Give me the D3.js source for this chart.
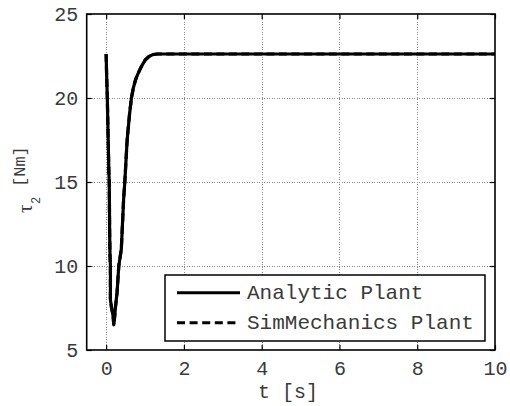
<!DOCTYPE html>
<html>
<head>
<meta charset="utf-8">
<script src="https://cdn.jsdelivr.net/npm/d3@7"></script>
<style>
  html, body { margin: 0; padding: 0; background: #fff; }
  svg { display: block; }
  text { font-family: "Liberation Mono", "Courier New", monospace; fill: #3a3a3a; }
</style>
</head>
<body>
<svg id="chart" width="510" height="406"></svg>
<script>
// ---- data ----
const time = [0, 0.01, 0.03, 0.05, 0.07, 0.08, 0.09, 0.10, 0.11, 0.11, 0.14, 0.18, 0.196,
  0.22, 0.24, 0.28, 0.325, 0.39, 0.42, 0.45, 0.48, 0.54, 0.60, 0.65, 0.70, 0.755, 0.80, 0.88,
  0.95, 1.01, 1.10, 1.20, 1.31, 2, 4, 6, 8, 10];
const analyticTau = [22.62, 21.6, 20.0, 17.8, 15.6, 15.0, 12.0, 10.6, 10.0, 8.0, 7.5, 7.0, 6.5,
  7.0, 7.56, 8.4, 10.0, 11.0, 12.5, 14.0, 15.0, 17.5, 19.0, 20.0, 20.6, 21.07, 21.35, 21.75,
  22.05, 22.28, 22.47, 22.58, 22.62, 22.62, 22.62, 22.62, 22.62, 22.62];
const simTau = [22.62, 21.6, 20.0, 17.8, 15.6, 15.0, 12.0, 10.6, 10.0, 8.0, 7.5, 7.0, 6.5,
  7.0, 7.56, 8.4, 10.0, 11.0, 12.5, 14.0, 15.0, 17.5, 19.0, 20.0, 20.6, 21.07, 21.35, 21.75,
  22.05, 22.28, 22.47, 22.58, 22.62, 22.62, 22.62, 22.62, 22.62, 22.62];
const xTicks = [0, 2, 4, 6, 8, 10];
const yTicks = [5, 10, 15, 20, 25];
const seriesNames = ["Analytic Plant", "SimMechanics Plant"];

// ---- layout ----
const L = 86.7, R = 495, T = 14, B = 350;
const svg = d3.select("#chart");
const x = d3.scaleLinear().domain([-0.5, 10]).range([L, R]);
const y = d3.scaleLinear().domain([5, 25]).range([B, T]);

// grid
const grid = svg.append("g").attr("stroke", "#8a8a8a").attr("stroke-width", 1)
  .attr("stroke-dasharray", "1,1.5").attr("shape-rendering", "crispEdges");
xTicks.filter(d => d < 10).forEach(d => {
  grid.append("line").attr("x1", Math.round(x(d)) + 0.5).attr("x2", Math.round(x(d)) + 0.5)
    .attr("y1", T).attr("y2", B);
});
yTicks.filter(d => d > 5 && d < 25).forEach(d => {
  grid.append("line").attr("y1", Math.round(y(d)) + 0.5).attr("y2", Math.round(y(d)) + 0.5)
    .attr("x1", L).attr("x2", R);
});

// axes (d3 axes, inward ticks)
const fmt = d3.format("d");
const xAxis = svg.append("g").attr("transform", `translate(0,${B})`)
  .call(d3.axisBottom(x).tickValues(xTicks).tickSize(-5).tickPadding(10).tickFormat(fmt));
const xAxisTop = svg.append("g").attr("transform", `translate(0,${T})`)
  .call(d3.axisTop(x).tickValues(xTicks).tickSize(-5).tickFormat(""));
const yAxis = svg.append("g").attr("transform", `translate(${L},0)`)
  .call(d3.axisLeft(y).tickValues(yTicks).tickSize(-5).tickPadding(10).tickFormat(fmt));
const yAxisR = svg.append("g").attr("transform", `translate(${R},0)`)
  .call(d3.axisRight(y).tickValues(yTicks).tickSize(-5).tickFormat(""));
[xAxis, xAxisTop, yAxis, yAxisR].forEach(g => {
  g.select(".domain").remove();
  g.selectAll(".tick line").attr("stroke", "#000").attr("stroke-width", 1.2);
  g.selectAll("text").attr("font-size", 20).attr("font-family", "Liberation Mono").attr("fill", "#3a3a3a");
});
xAxis.selectAll("text").attr("dy", null).attr("y", 25);
yAxis.selectAll("text").attr("dy", "0.32em").attr("x", -8.5);

// frame
svg.append("rect").attr("x", L).attr("y", T).attr("width", R - L).attr("height", B - T)
  .attr("fill", "none").attr("stroke", "#000").attr("stroke-width", 1.6);

// lines
const line = d3.line().x((d, i) => x(time[i])).y(d => y(d));
svg.append("path").datum(analyticTau).attr("d", line)
  .attr("fill", "none").attr("stroke", "#000").attr("stroke-width", 3.2).attr("stroke-linejoin", "round");
svg.append("path").datum(simTau).attr("d", line)
  .attr("fill", "none").attr("stroke", "#000").attr("stroke-width", 3.2).attr("stroke-dasharray", "8,4.5");

// axis labels
svg.append("text").attr("x", 288).attr("y", 398).attr("text-anchor", "middle")
  .attr("font-size", 20).text("t [s]");
svg.append("text").attr("transform", "translate(32,213) rotate(-90)")
  .style("font-family", "'Liberation Serif', serif")
  .attr("font-size", 21).text("τ");
svg.append("text").attr("transform", "translate(40,204) rotate(-90)")
  .attr("font-size", 12).text("2");
svg.append("text").attr("transform", "translate(25,187) rotate(-90)")
  .attr("font-size", 17).text("[Nm]");

// legend
const lg = svg.append("g");
lg.append("rect").attr("x", 165).attr("y", 275).attr("width", 320).attr("height", 66)
  .attr("fill", "#fff").attr("stroke", "#000").attr("stroke-width", 1.5);
const lgY = [292.7, 322.7];
seriesNames.forEach((name, i) => {
  lg.append("line").attr("x1", 177).attr("x2", 240).attr("y1", lgY[i]).attr("y2", lgY[i])
    .attr("stroke", "#000").attr("stroke-width", 3)
    .attr("stroke-dasharray", i === 1 ? "8,4.6" : null);
  lg.append("text").attr("x", 247).attr("y", lgY[i] + 6.5).attr("font-size", 21).text(name);
});
</script>
</body>
</html>
